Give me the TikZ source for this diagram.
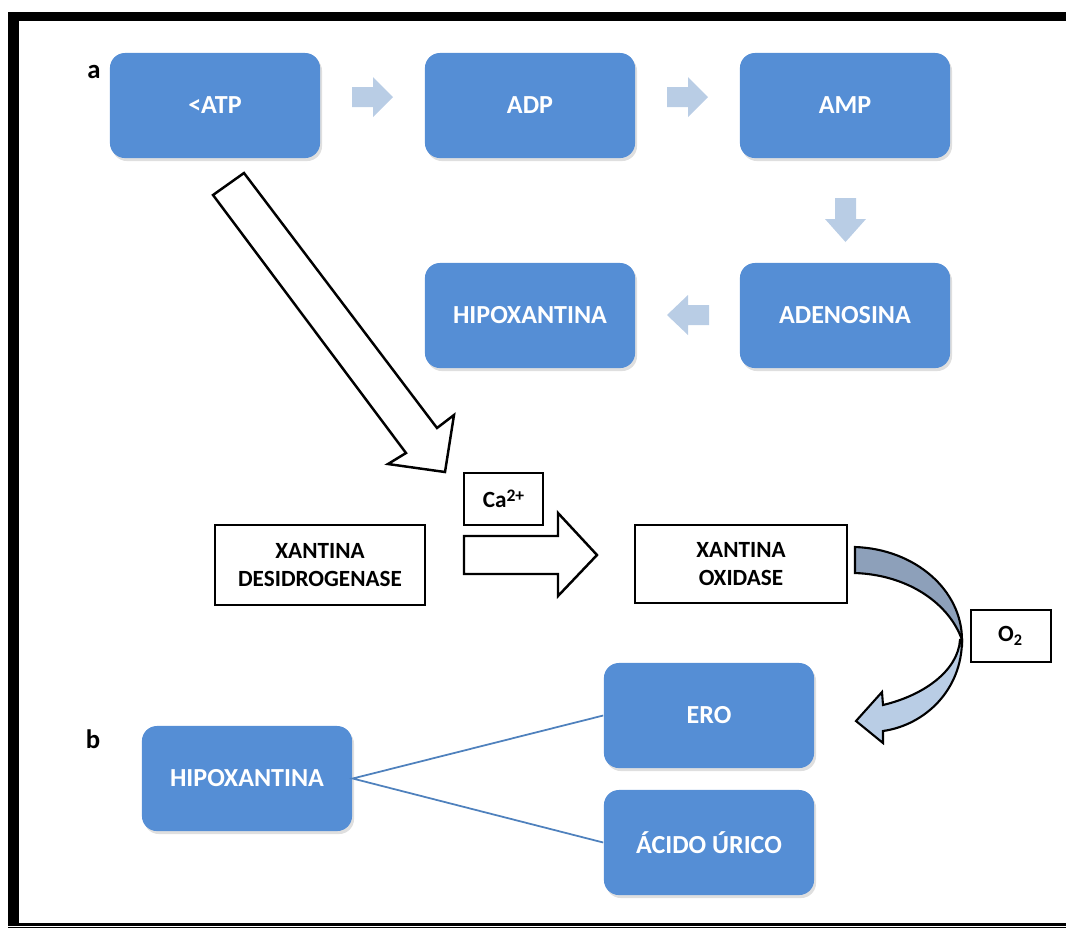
\documentclass[tikz,border=0pt]{standalone}
\usepackage{fontspec}
\setmainfont{Carlito}
\usetikzlibrary{shadows}
\definecolor{boxblue}{RGB}{85,142,213}
\definecolor{pale}{RGB}{185,205,229}
\definecolor{slate}{RGB}{141,160,186}
\definecolor{lineblue}{RGB}{79,129,189}
\begin{document}
\begin{tikzpicture}[x=0.01cm,y=-0.01cm]
\tikzstyle{bx}=[rounded corners=0.15cm,fill=boxblue,text=white,font=\fontsize{7.4}{9}\selectfont\bfseries,minimum width=2.1cm,minimum height=1.05cm,inner sep=0pt,drop shadow={opacity=0.25,shadow xshift=0.02cm,shadow yshift=-0.03cm}]
\tikzstyle{wb}=[draw,line width=0.55pt,fill=white,font=\fontsize{6.6}{8}\selectfont\bfseries,align=center,inner sep=0pt]
\tikzstyle{ba}=[fill=pale]
\tikzstyle{ha}=[draw,line width=0.7pt,fill=white,line join=miter]
\tikzstyle{lbl}=[font=\fontsize{7.6}{9}\selectfont\bfseries,inner sep=0pt]
\useasboundingbox (0,0) rectangle (1066,929);

% Frame
\fill (8,12) rectangle (1066,21);
\fill (8,12) rectangle (19,925);
\fill (8,923) rectangle (1066,925.5);
\fill (8,927) rectangle (1066,928);

% Part a
\node[lbl] at (94,72) {a};
\node[bx] (atp) at (215,105.5) {<ATP};
\node[bx] (adp) at (530,105.5) {ADP};
\node[bx] (amp) at (845,105.5) {AMP};
\node[bx] (adenosina) at (845,315.5) {ADENOSINA};
\node[bx] (hipo) at (530,315.5) {HIPOXANTINA};
\fill[ba] (352,87) -- (373,87) -- (373,77) -- (393,97) -- (373,117) -- (373,107) -- (352,107) -- cycle;
\fill[ba] (667,87) -- (688,87) -- (688,77) -- (708,97) -- (688,117) -- (688,107) -- (667,107) -- cycle;
\fill[ba] (835,198) -- (856,198) -- (856,219) -- (866,219) -- (845.5,242) -- (825,219) -- (835,219) -- cycle;
\fill[ba] (709,305) -- (688,305) -- (688,295) -- (667,315) -- (688,335) -- (688,325) -- (709,325) -- cycle;

% Hollow arrows
\draw[ha] (213,195) -- (244,173) -- (437,428) -- (454,415) -- (445,472) -- (388,464) -- (406,453) -- cycle;
\node[wb,minimum width=0.79cm,minimum height=0.52cm] (ca) at (503.5,499) {Ca\raisebox{0.55ex}{\fontsize{5}{5}\selectfont 2+}};
\draw[ha] (464,536) -- (558,536) -- (558,513) -- (597,555) -- (558,596) -- (558,574) -- (464,574) -- cycle;
\node[wb,minimum width=2.1cm,minimum height=0.8cm] (xd) at (320,565) {XANTINA\\DESIDROGENASE};
\node[wb,minimum width=2.12cm,minimum height=0.78cm] (xo) at (741,564) {XANTINA\\OXIDASE};
\node[wb,minimum width=0.8cm,minimum height=0.52cm] (o2) at (1011,636) {O\textsubscript{2}};

% Curved arrow
\filldraw[fill=slate,line width=0.6pt] (855,547) .. controls (915,549) and (962,590) .. (962,640) .. controls (950,605) and (910,575) .. (855,573) -- cycle;
\filldraw[fill=pale,line width=0.6pt,line join=miter] (962,640) .. controls (962,690) and (925,725) .. (883,731) -- (883,743) -- (856,721) -- (882,692) -- (883,705) .. controls (925,695) and (958,670) .. (960,640) -- cycle;

% Part b
\node[lbl] at (93,739) {b};
\node[bx] (hipob) at (247,778.5) {HIPOXANTINA};
\node[bx] (ero) at (709,715.5) {ERO};
\node[bx] (acido) at (709,842.5) {ÁCIDO ÚRICO};
\draw[lineblue,line width=0.5pt] (ero.west) -- (hipob.east) -- (acido.west);
\end{tikzpicture}
\end{document}
